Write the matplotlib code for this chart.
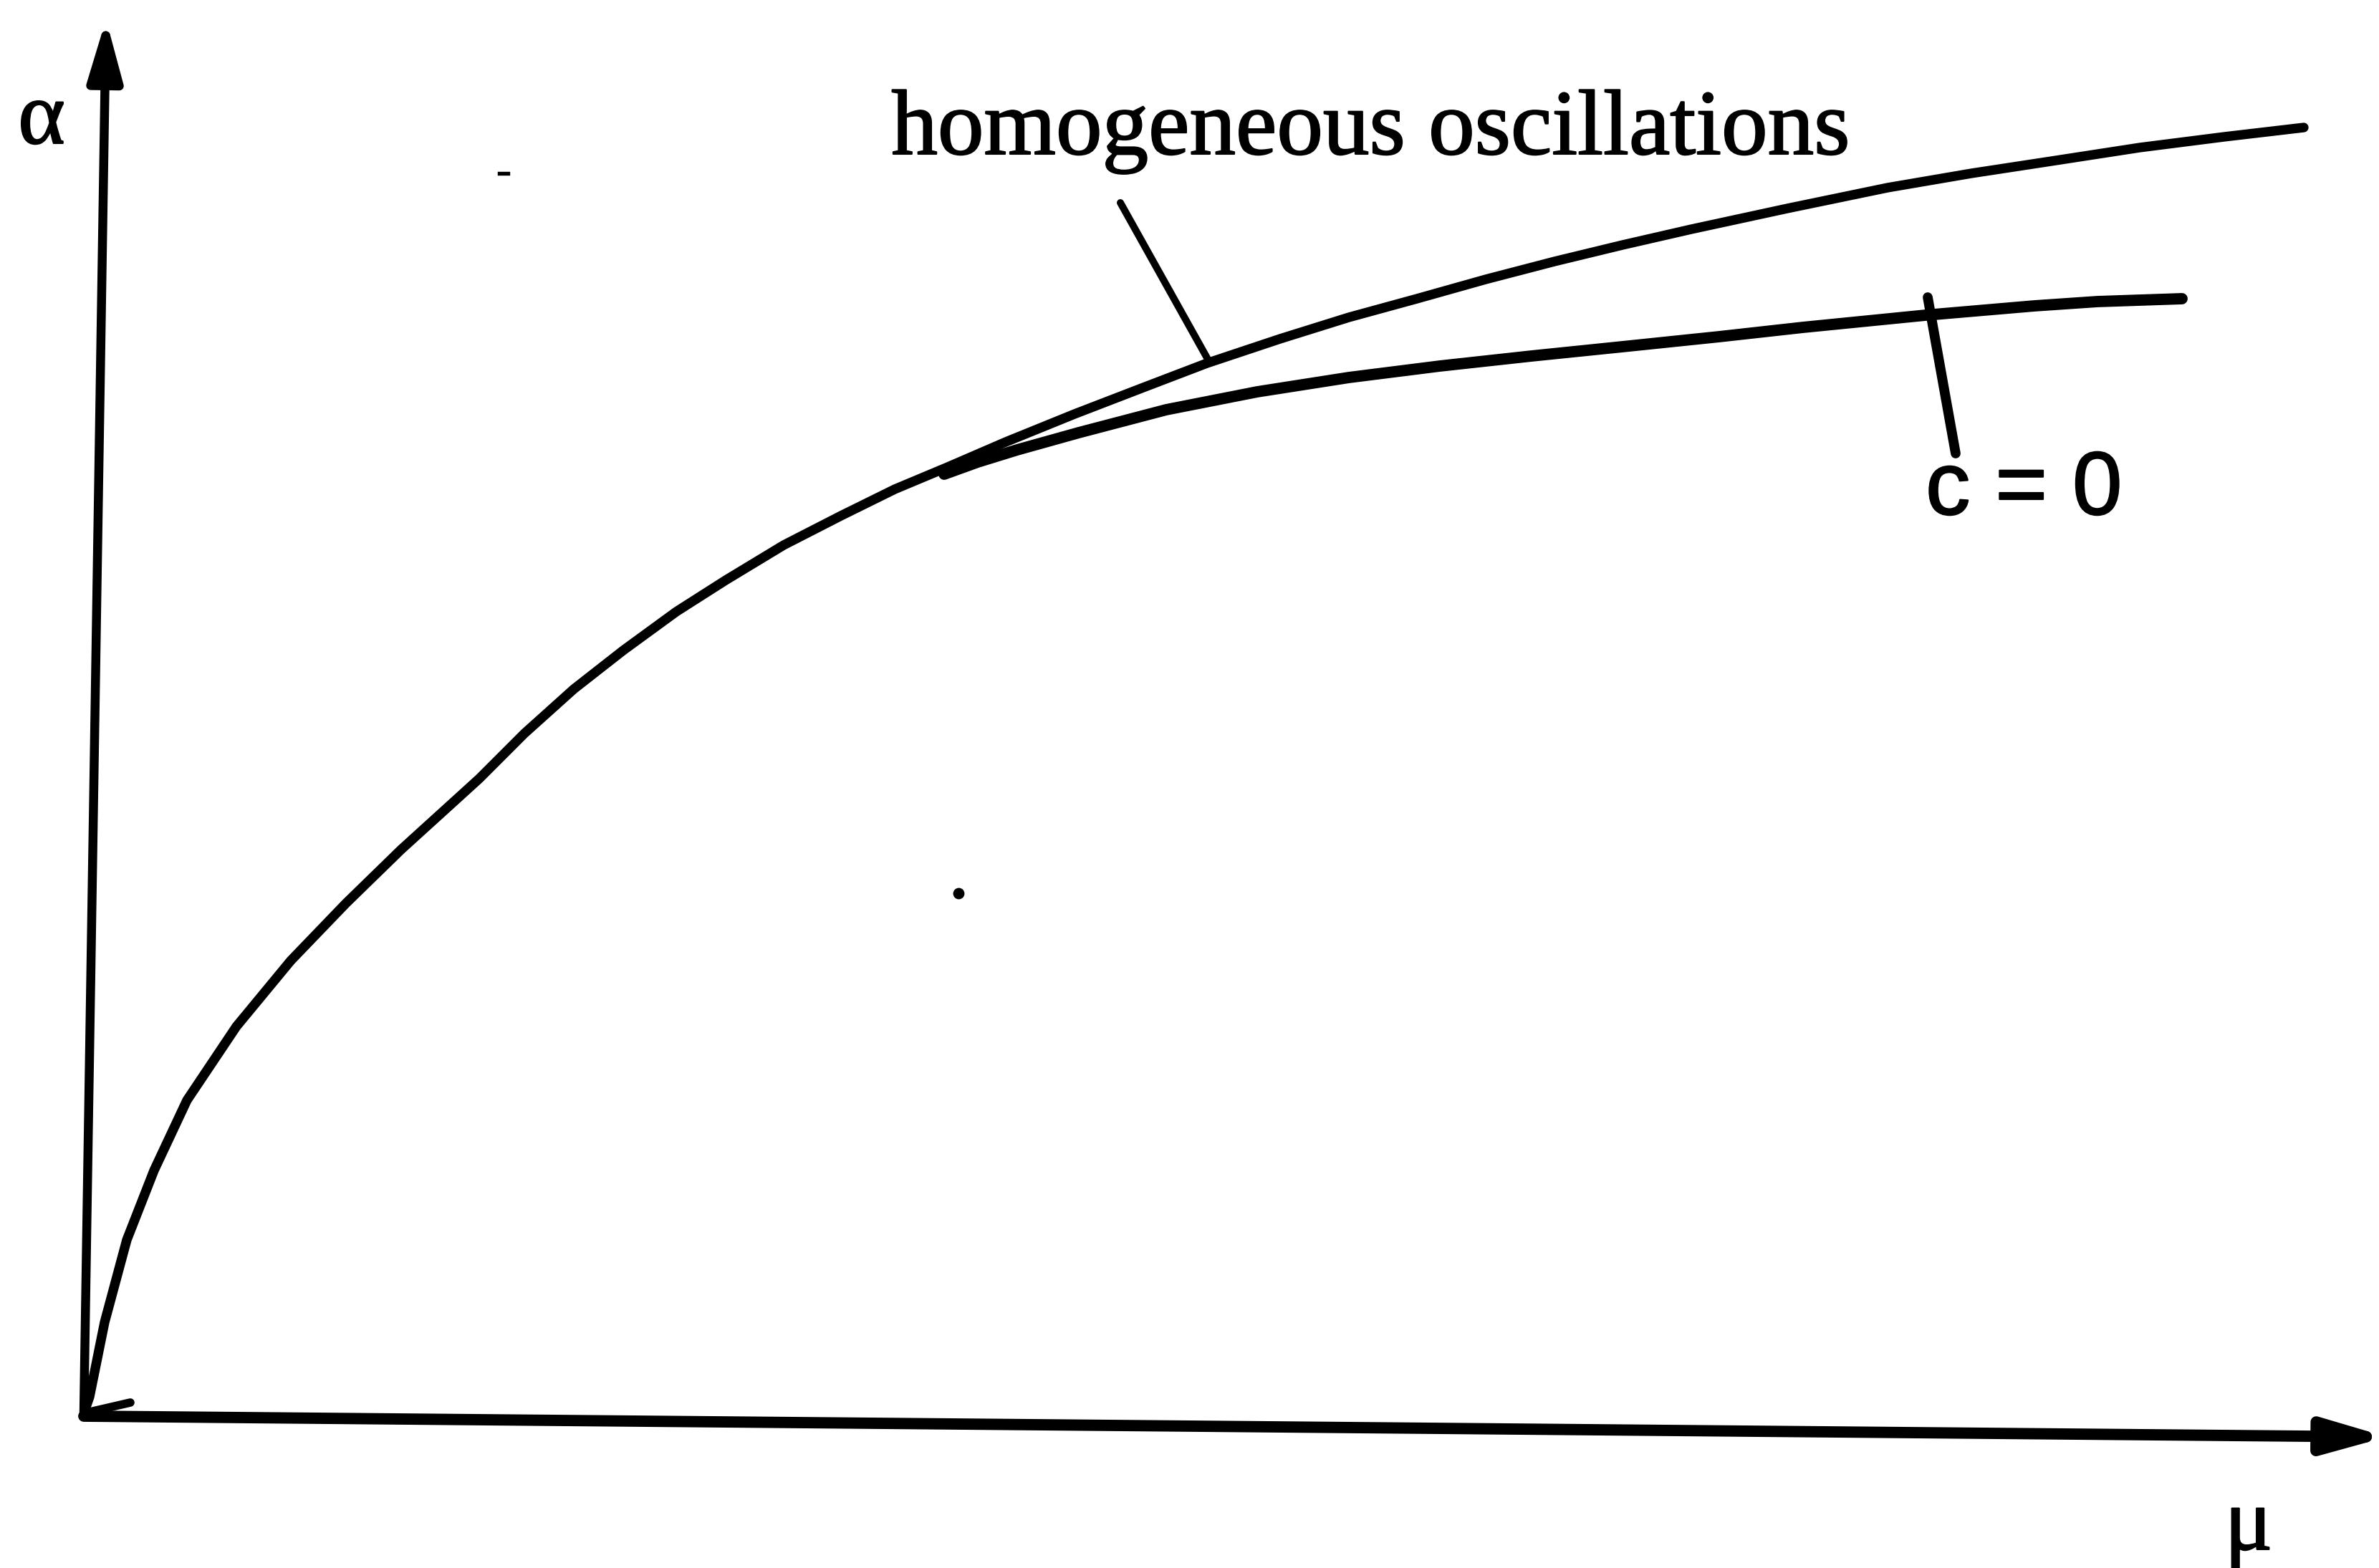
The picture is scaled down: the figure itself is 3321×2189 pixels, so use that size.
import matplotlib
matplotlib.use('Agg')
import matplotlib.pyplot as plt
import matplotlib.patheffects as pe

# Stability boundaries in the (mu, alpha) plane, arbitrary units
mu_homog = [0.01, 0.08, 0.29, 0.60, 0.98, 1.44, 2.13, 2.89, 3.66, 4.43, 5.19, 5.52,
            6.15, 6.84, 7.53, 8.27, 8.96, 9.77, 10.57, 11.32, 12.06, 12.87, 13.83,
            14.79, 15.68, 16.70, 17.66, 18.61, 19.57, 20.53, 21.48, 22.44, 23.78,
            25.18, 26.35, 27.53, 28.70, 29.88, 30.99]
alpha_homog = [0.05, 0.25, 1.29, 2.44, 3.41, 4.39, 5.42, 6.34, 7.14, 7.89, 8.58, 8.88,
               9.51, 10.13, 10.67, 11.21, 11.65, 12.14, 12.55, 12.92, 13.23, 13.58, 13.97,
               14.34, 14.68, 15.02, 15.32, 15.58, 15.85, 16.10, 16.33, 16.55, 16.84,
               17.13, 17.33, 17.51, 17.69, 17.84, 17.97]

mu_c0 = [12.01, 12.48, 13.03, 13.89, 15.11, 16.38, 17.66, 18.93, 20.21, 21.48,
         22.83, 24.00, 25.71, 27.23, 28.11, 29.29]
alpha_c0 = [13.13, 13.30, 13.47, 13.71, 14.03, 14.28, 14.48, 14.64, 14.78, 14.91,
            15.05, 15.18, 15.35, 15.48, 15.54, 15.58]

# label leader lines: (mu_start, mu_end), (alpha_start, alpha_end)
lead_homog_mu = [14.47, 15.71]
lead_homog_alpha = [16.92, 14.70]
lead_c0_mu = [25.74, 26.13]
lead_c0_alpha = [15.60, 13.42]

fig = plt.figure(figsize=(3321 / 300, 2189 / 300), dpi=300)
ax = fig.add_axes([0, 0, 1, 1])
ax.set_xlim(-1.17, 32.04)
ax.set_ylim(-2.14, 19.75)
ax.axis('off')

# axes drawn as arrows from the origin
ax.annotate('', xy=(0.31, 19.48), xytext=(0.0, 0.0), annotation_clip=False,
            arrowprops=dict(arrowstyle='-|>,head_length=0.7,head_width=0.2',
                            mutation_scale=24, lw=3.0, color='black',
                            shrinkA=0, shrinkB=0))
ax.annotate('', xy=(32.15, -0.31), xytext=(0.0, -0.02), annotation_clip=False,
            arrowprops=dict(arrowstyle='-|>,head_length=0.7,head_width=0.2',
                            mutation_scale=24, lw=3.8, color='black',
                            shrinkA=0, shrinkB=0))
ax.plot([0.0, 0.65], [0.02, 0.17], color='black', lw=2.8, solid_capstyle='round')

ax.plot(mu_homog, alpha_homog, color='black', lw=3.2,
        solid_capstyle='round', solid_joinstyle='round')
ax.plot(mu_c0, alpha_c0, color='black', lw=3.8,
        solid_capstyle='round', solid_joinstyle='round')

ax.plot(lead_homog_mu, lead_homog_alpha, color='black', lw=2.4, solid_capstyle='round')
ax.plot(lead_c0_mu, lead_c0_alpha, color='black', lw=3.3, solid_capstyle='round')

# small specks
ax.plot([5.80, 5.92], [17.33, 17.33], color='black', lw=1.3)
ax.plot([12.21], [7.28], 'o', color='black', ms=2.8)

heavy = [pe.withStroke(linewidth=0.5, foreground='black')]
ax.text(17.96, 17.60, 'homogeneous oscillations', family='Liberation Serif',
        fontsize=31, ha='center', va='baseline', path_effects=heavy)
ax.text(25.71, 12.57, 'c = 0', family='Liberation Sans',
        fontsize=30, ha='left', va='baseline', path_effects=heavy)
ax.text(-0.59, 17.75, 'α', family='Liberation Serif',
        fontsize=30, ha='center', va='baseline', path_effects=heavy)
ax.text(30.22, -1.88, 'μ', family='Liberation Serif',
        fontsize=30, ha='center', va='baseline', path_effects=heavy)

fig.savefig('out.png', dpi=300, facecolor='white')
